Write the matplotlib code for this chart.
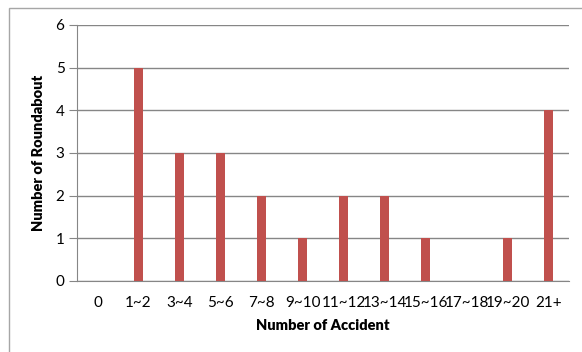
import matplotlib.pyplot as plt
from matplotlib.patches import Rectangle

categories = ["0", "1~2", "3~4", "5~6", "7~8", "9~10", "11~12", "13~14",
              "15~16", "17~18", "19~20", "21+"]
roundabouts = [0, 5, 3, 3, 2, 1, 2, 2, 1, 0, 1, 4]
y_ticks = [0, 1, 2, 3, 4, 5, 6]

plt.rcParams['font.family'] = ['Lato', 'DejaVu Sans']

W, H = 582, 352
fig = plt.figure(figsize=(W / 100, H / 100), dpi=100)

# chart area frame
fig.patches.append(Rectangle((9 / W, -0.1), 1.2, 1 - 8 / H + 0.1,
                             transform=fig.transFigure, fill=False,
                             edgecolor='#A6A6A6', linewidth=1.0))

left, right, top, bottom = 77, 569, 25, 281
ax = fig.add_axes([left / W, 1 - bottom / H, (right - left) / W, (bottom - top) / H])

x = range(len(categories))
ax.bar(x, roundabouts, width=0.23, color='#C0504D', zorder=3)

ax.set_xlim(-0.5, len(categories) - 0.5)
ax.set_ylim(0, 6)
ax.set_yticks(y_ticks)
ax.set_xticks(list(x))
ax.set_xticklabels(categories)
ax.yaxis.grid(True, color='#868686', linewidth=1.0, zorder=0)

for s in ['top', 'right']:
    ax.spines[s].set_visible(False)
ax.spines['left'].set_color('#868686')
ax.spines['bottom'].set_color('#868686')

ax.tick_params(axis='y', length=6, color='#868686', labelsize=11, pad=3)
ax.tick_params(axis='x', length=0, labelsize=11, pad=11)

ax.set_xlabel("Number of Accident", fontsize=10.5, fontweight='heavy', labelpad=6)
ax.set_ylabel("Number of Roundabout", fontsize=10.5, fontweight='heavy', labelpad=8)

fig.savefig("out.png", dpi=100)
